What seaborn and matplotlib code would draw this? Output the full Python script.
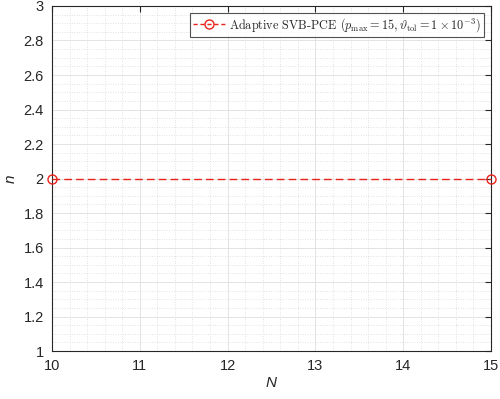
import matplotlib
matplotlib.use('Agg')

import matplotlib.pyplot as plt
import seaborn as sns
import pandas as pd
from matplotlib.ticker import MultipleLocator

N_values = [10, 15]
n_values = [2, 2]
series_label = r"Adaptive SVB-PCE ($p_{\max} = 15, \vartheta_{\mathrm{tol}} = 1 \times 10^{-3}$)"

df = pd.DataFrame({"N": N_values, "n": n_values})

sns.set_style("white")
plt.rcParams['font.family'] = ['Liberation Sans', 'DejaVu Sans']
plt.rcParams['mathtext.fontset'] = 'cm'
plt.rcParams['axes.unicode_minus'] = False

fig = plt.figure(figsize=(5, 3.99), dpi=100)
ax = fig.add_axes([0.104, 0.12, 0.878, 0.865])

sns.lineplot(data=df, x="N", y="n", ax=ax, color="#e8231c",
             linewidth=1.0, marker="o", markersize=6.5, markerfacecolor="none",
             markeredgecolor="#e8231c", markeredgewidth=1.0,
             label=series_label, clip_on=False, zorder=5)
ax.lines[0].set_dashes([5.5, 3])

ax.set_xlim(10, 15)
ax.set_ylim(1, 3)
ax.xaxis.set_major_locator(MultipleLocator(1))
ax.xaxis.set_minor_locator(MultipleLocator(0.2))
ax.yaxis.set_major_locator(MultipleLocator(0.2))
ax.yaxis.set_minor_locator(MultipleLocator(0.05))
ax.yaxis.set_major_formatter(plt.FuncFormatter(lambda v, p: f"{v:g}"))

ax.grid(True, which="major", color="#dedede", linewidth=0.6, linestyle="-")
ax.grid(True, which="minor", color="#c8c8c8", linewidth=0.5, linestyle=(0, (1, 2.5)))
ax.set_axisbelow(True)

ax.tick_params(which="major", direction="in", length=4, width=0.8, top=True, right=True,
               labelsize=10.5, colors="#262626", pad=6)
ax.tick_params(which="minor", length=0, top=True, right=True)
for s in ax.spines.values():
    s.set_color("#262626")
    s.set_linewidth(0.8)

ax.set_xlabel("N", fontsize=11, color="#262626", fontstyle="italic", labelpad=2)
ax.set_ylabel("n", fontsize=11, color="#262626", fontstyle="italic", labelpad=4)

leg = ax.legend(loc="upper right", prop={"family": "cmr10", "size": 8.8}, frameon=True,
                fancybox=False, edgecolor="#262626", handlelength=2.6,
                borderpad=0.25, borderaxespad=0.55, handletextpad=0.4)
leg.get_frame().set_linewidth(0.8)
leg.get_lines()[0].set_dashes([3, 2])

fig.savefig("out.png", dpi=100)
